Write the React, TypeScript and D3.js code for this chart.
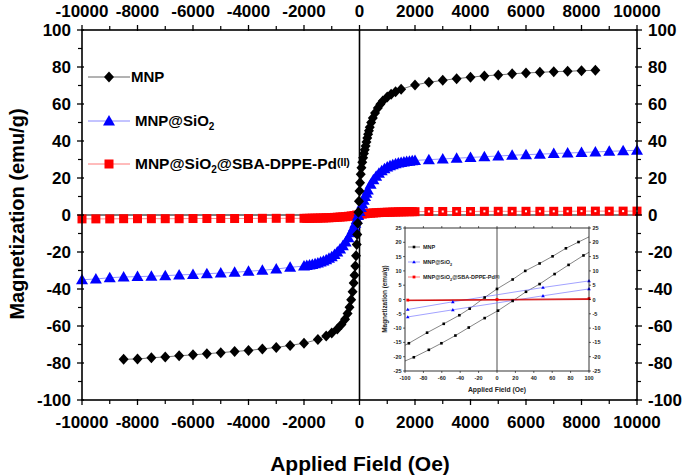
import React from 'react';
import * as d3 from 'd3';

const W = 685;
const H = 476;
const FONT = "'Liberation Sans', Arial, Helvetica, sans-serif";

// ---------- main plot data ----------
const mnpField = [
  -8500, -8000, -7500, -7000, -6500, -6000, -5500, -5000, -4500, -4000, -3500, -3000, -2500, -2000, -1500,
  -1200, -1000, -800, -650, -520, -430, -360, -300, -250, -210, -180, -150, -125, -100, -80, -60, -40, -20,
  0, 20, 45, 70, 100, 130, 160, 190, 220, 250, 280, 310, 340, 370, 420, 480, 560, 660, 750, 840, 1000, 1140,
  1300, 1500, 2000, 2500, 3000, 3500, 4000, 4500, 5000, 5500, 6000, 6500, 7000, 7500, 8000, 8500,
];
const mnpMag = [
  -78.0, -77.8, -77.2, -76.7, -76.1, -75.6, -75.0, -74.4, -73.8, -73.2, -72.4, -71.6, -70.5, -69.3, -67.3,
  -65.4, -63.8, -61.6, -59.2, -56.4, -53.2, -49.8, -45.8, -41.5, -36.8, -32.5, -27.5, -22.0, -16.0, -10.5, -4.5, 1.5, 7.5,
  13.0, 17.5, 22.0, 25.5, 28.5, 31.0, 33.2, 35.3, 37.3, 39.5, 41.6, 43.6, 45.6, 47.5, 50.0, 52.5, 55.2, 57.8, 59.8, 61.6, 63.8, 65.3,
  66.6, 68.0, 70.3, 71.7, 72.8, 73.7, 74.5, 75.2, 75.7, 76.3, 76.8, 77.1, 77.5, 77.7, 78.0, 78.2,
];

const sio2Field = [
  -10000, -9500, -9000, -8500, -8000, -7500, -7000, -6500, -6000, -5500, -5000, -4500, -4000, -3500, -3000, -2500,
  -2000, -1900, -1800, -1700, -1600, -1500, -1400, -1300, -1200, -1100, -1000, -900, -800, -700, -600, -500, -400,
  -300, -250, -200, -150, -100, -50, 0, 50, 100, 150, 200, 250, 300, 400, 500, 600, 700, 800, 900, 1000, 1100,
  1200, 1300, 1400, 1500, 1600, 1700, 1800, 1900, 2000,
  2500, 3000, 3500, 4000, 4500, 5000, 5500, 6000, 6500, 7000, 7500, 8000, 8500, 9000, 9500, 10000,
];
const sio2Mag = [
  -35.0, -34.6, -33.9, -33.5, -33.3, -33.1, -32.8, -32.4, -32.1, -31.7, -31.4, -31.0, -30.4, -29.9, -29.2, -28.3,
  -27.6, -27.3, -27.0, -26.7, -26.3, -25.9, -25.4, -24.9, -24.2, -23.4, -22.5, -21.4, -20.0, -18.4, -16.6, -14.6, -12.3,
  -9.6, -8.0, -6.3, -4.4, -2.4, -0.3, 1.9, 4.0, 6.0, 8.0, 10.0, 11.8, 13.5, 16.6, 19.0, 21.0, 22.6, 23.9, 25.0, 25.9, 26.6,
  27.2, 27.7, 28.1, 28.4, 28.7, 28.9, 29.1, 29.3, 29.5,
  29.9, 30.3, 30.7, 31.1, 31.5, 31.9, 32.3, 32.6, 32.9, 33.2, 33.5, 33.8, 34.1, 34.4, 34.7, 35.0,
];

const pdField = [
  -10000, -9500, -9000, -8500, -8000, -7500, -7000, -6500, -6000, -5500, -5000, -4500, -4000, -3500, -3000, -2500,
  -2000, -1900, -1800, -1700, -1600, -1500, -1400, -1300, -1200, -1100, -1000, -900, -800, -700, -600, -500, -400,
  -300, -200, -100, 0, 100, 200, 300, 400, 500, 600, 700, 800, 900, 1000, 1100, 1200, 1300, 1400, 1500, 1600,
  1700, 1800, 1900, 2000,
  2500, 3000, 3500, 4000, 4500, 5000, 5500, 6000, 6500, 7000, 7500, 8000, 8500, 9000, 9500, 10000,
];
const pdMag = [
  -2.1, -2.1, -2.1, -2.0, -2.0, -2.0, -2.0, -2.0, -1.9, -1.9, -1.9, -1.9, -1.9, -1.8, -1.8, -1.8,
  -1.8, -1.8, -1.8, -1.7, -1.7, -1.7, -1.6, -1.6, -1.5, -1.5, -1.4, -1.3, -1.2, -1.1, -1.0, -0.9, -0.7,
  -0.5, -0.3, 0.0, 0.3, 0.5, 0.7, 0.9, 1.0, 1.1, 1.2, 1.3, 1.4, 1.4, 1.5, 1.5, 1.6, 1.6, 1.7, 1.7, 1.7,
  1.8, 1.8, 1.8, 1.8,
  1.9, 1.9, 1.9, 1.9, 2.0, 2.0, 2.0, 2.0, 2.0, 2.0, 2.0, 2.1, 2.1, 2.1, 2.1, 2.1,
];

const xMajorTicks = [-10000, -8000, -6000, -4000, -2000, 0, 2000, 4000, 6000, 8000, 10000];
const xMinorTicks = [-9000, -7000, -5000, -3000, -1000, 1000, 3000, 5000, 7000, 9000];
const yMajorTicks = [-100, -80, -60, -40, -20, 0, 20, 40, 60, 80, 100];
const yMinorTicks = [-90, -70, -50, -30, -10, 10, 30, 50, 70, 90];

// ---------- inset data ----------
const inMnpUpField = [-100, -95.8, -76, -57.9, -40.9, -29.7, -13.4, 0, 17, 30.7, 46.3, 60.4, 74.9, 88.6, 100];
const inMnpUpMag = [-16.0, -15.3, -11.6, -8.5, -5.5, -3.2, 0.7, 3.7, 7.0, 10.0, 12.6, 15.1, 17.9, 20.1, 21.9];
const inMnpLowField = [-100, -90.4, -74.1, -60.4, -45.2, -30.7, -13.4, 1.1, 17, 31.5, 46.3, 62.6, 77.8, 94, 100];
const inMnpLowMag = [-21.5, -20.2, -17.6, -15.3, -12.6, -9.8, -6.5, -3.9, -0.5, 2.7, 5.4, 8.9, 12.1, 15.4, 16.5];
const inSio2Field = [-97, -48, 50, 100];
const inSio2UpMag = [-3.5, -0.8, 4.2, 6.5];
const inSio2LowMag = [-6.1, -3.6, 1.3, 3.7];
const inPdField = [-97, 0, 100];
const inPdUpMag = [-0.2, 0.0, 0.3];
const inPdLowMag = [-0.4, -0.2, 0.0];

const inXTicks = [-100, -80, -60, -40, -20, 0, 20, 40, 60, 80, 100];
const inYTicks = [-25, -20, -15, -10, -5, 0, 5, 10, 15, 20, 25];

const BLUE = '#0000ff';
const BLUE_LINE = '#7a7aff';
const RED = '#ff0000';
const RED_LINE = '#ff6a6a';

type P = [number, number];
const zip = (xs: number[], ys: number[]): P[] => xs.map((v, i) => [v, ys[i]] as P);

const diamond = (cx: number, cy: number, r = 5) =>
  `M${cx},${cy - r - 0.5}L${cx + r},${cy}L${cx},${cy + r + 0.5}L${cx - r},${cy}Z`;
const triangle = (cx: number, cy: number, r = 6) =>
  `M${cx},${cy - r}L${cx + r},${cy + r * 0.75}L${cx - r},${cy + r * 0.75}Z`;

export default function App() {
  const x = d3.scaleLinear().domain([-10000, 10000]).range([82, 637]);
  const y = d3.scaleLinear().domain([-100, 100]).range([400, 30]);
  const ix = d3.scaleLinear().domain([-100, 100]).range([405, 589]);
  const iy = d3.scaleLinear().domain([-25, 25]).range([371, 228]);

  const mainLine = d3.line<P>().x((d) => x(d[0])).y((d) => y(d[1]));
  const inLine = d3.line<P>().x((d) => ix(d[0])).y((d) => iy(d[1]));

  const mnp = zip(mnpField, mnpMag);
  const sio2 = zip(sio2Field, sio2Mag);
  const pd = zip(pdField, pdMag);

  const [L, R, T, B] = [82, 637, 30, 400];
  const tickFont = { fontFamily: FONT, fontWeight: 700, fontSize: 17, fill: '#000' } as const;

  const legendRows = [
    { yy: 77, kind: 'mnp' },
    { yy: 121, kind: 'sio2' },
    { yy: 164, kind: 'pd' },
  ];

  const inTickFont = { fontFamily: FONT, fontWeight: 700, fontSize: 5.5, fill: '#222' } as const;

  return (
    <svg width={W} height={H} style={{ position: 'absolute', left: 0, top: 0, background: '#fff' }}>
      <rect x={0} y={0} width={W} height={H} fill="#fff" />
      {/* zero lines */}
      <line x1={x(0)} x2={x(0)} y1={T} y2={B} stroke="#000" strokeWidth={1.6} />
      <line x1={L} x2={R} y1={y(0)} y2={y(0)} stroke="#000" strokeWidth={1.2} />

      {/* series lines */}
      <path d={mainLine(pd) || ''} fill="none" stroke={RED_LINE} strokeWidth={0.8} />
      <path d={mainLine(sio2) || ''} fill="none" stroke={BLUE_LINE} strokeWidth={0.8} />
      <path d={mainLine(mnp) || ''} fill="none" stroke="#555" strokeWidth={0.8} />

      {/* red squares */}
      {pd.map((d, i) => (
        <rect key={'pd' + i} x={x(d[0]) - 4.5} y={y(d[1]) - 4.5} width={9} height={9} fill={RED} />
      ))}
      {pd.filter((d) => d[0] >= 2500).map((d, i) => (
        <rect key={'pdw' + i} x={x(d[0]) - 1} y={y(d[1]) - 1} width={2} height={2} fill="#fff" />
      ))}
      {/* blue triangles */}
      {sio2.map((d, i) => (
        <path key={'si' + i} d={triangle(x(d[0]), y(d[1]))} fill={BLUE} />
      ))}
      {/* black diamonds */}
      {mnp.map((d, i) => (
        <path key={'mn' + i} d={diamond(x(d[0]), y(d[1]))} fill="#000" />
      ))}

      {/* frame */}
      <rect x={L} y={T} width={R - L} height={B - T} fill="none" stroke="#000" strokeWidth={1.6} />

      {/* x ticks top & bottom */}
      {xMajorTicks.map((t) => (
        <g key={'xt' + t}>
          <line x1={x(t)} x2={x(t)} y1={T - 5} y2={T + 1} stroke="#000" strokeWidth={1.3} />
          <line x1={x(t)} x2={x(t)} y1={B - 1} y2={B + 5} stroke="#000" strokeWidth={1.3} />
          <text x={x(t)} y={17} textAnchor="middle" {...tickFont}>{t}</text>
          <text x={x(t)} y={428} textAnchor="middle" {...tickFont}>{t}</text>
        </g>
      ))}
      {xMinorTicks.map((t) => (
        <g key={'xm' + t}>
          <line x1={x(t)} x2={x(t)} y1={T - 4} y2={T} stroke="#000" strokeWidth={1.2} />
          <line x1={x(t)} x2={x(t)} y1={B} y2={B + 4} stroke="#000" strokeWidth={1.2} />
        </g>
      ))}
      {/* y ticks left & right */}
      {yMajorTicks.map((t) => (
        <g key={'yt' + t}>
          <line x1={L - 5} x2={L + 2} y1={y(t)} y2={y(t)} stroke="#000" strokeWidth={1.3} />
          <line x1={R - 2} x2={R + 5} y1={y(t)} y2={y(t)} stroke="#000" strokeWidth={1.3} />
          <text x={71} y={y(t) + 6} textAnchor="end" {...tickFont}>{t}</text>
          <text x={648} y={y(t) + 6} textAnchor="start" {...tickFont}>{t}</text>
        </g>
      ))}
      {yMinorTicks.map((t) => (
        <g key={'ym' + t}>
          <line x1={L - 4} x2={L} y1={y(t)} y2={y(t)} stroke="#000" strokeWidth={1.2} />
          <line x1={R} x2={R + 4} y1={y(t)} y2={y(t)} stroke="#000" strokeWidth={1.2} />
        </g>
      ))}

      {/* axis titles */}
      <text x={360} y={471} textAnchor="middle" fontFamily={FONT} fontWeight={700} fontSize={21}>
        Applied Field (Oe)
      </text>
      <text
        transform="translate(24,214) rotate(-90)"
        textAnchor="middle"
        fontFamily={FONT}
        fontWeight={700}
        fontSize={20}
      >
        Magnetization (emu/g)
      </text>

      {/* main legend */}
      {legendRows.map((r) => {
        const stroke = r.kind === 'mnp' ? '#555' : r.kind === 'sio2' ? BLUE_LINE : RED_LINE;
        return (
          <g key={r.kind}>
            <line x1={88} x2={130} y1={r.yy} y2={r.yy} stroke={stroke} strokeWidth={0.9} />
            {r.kind === 'mnp' && <path d={diamond(109, r.yy)} fill="#000" />}
            {r.kind === 'sio2' && <path d={triangle(109, r.yy)} fill={BLUE} />}
            {r.kind === 'pd' && <rect x={104.5} y={r.yy - 4.5} width={9} height={9} fill={RED} />}
          </g>
        );
      })}
      <text x={131} y={82} fontFamily={FONT} fontWeight={700} fontSize={15}>MNP</text>
      <text x={135} y={126} fontFamily={FONT} fontWeight={700} fontSize={15}>
        MNP@SiO<tspan dy={4} fontSize={10}>2</tspan>
      </text>
      <text x={135} y={169} fontFamily={FONT} fontWeight={700} fontSize={15.5}>
        MNP@SiO<tspan dy={4} fontSize={10}>2</tspan>
        <tspan dy={-4}>@SBA-DPPE-Pd</tspan>
        <tspan dy={-3} fontSize={10.5}>(II)</tspan>
      </text>

      {/* ---------- inset ---------- */}
      <g>
        <line x1={ix(0)} x2={ix(0)} y1={iy(25)} y2={iy(-25)} stroke="#000" strokeWidth={0.7} />
        {/* inset lines */}
        <path d={inLine(zip(inMnpUpField, inMnpUpMag)) || ''} fill="none" stroke="#333" strokeWidth={0.6} />
        <path d={inLine(zip(inMnpLowField, inMnpLowMag)) || ''} fill="none" stroke="#333" strokeWidth={0.6} />
        <path d={inLine(zip(inSio2Field, inSio2UpMag)) || ''} fill="none" stroke={BLUE_LINE} strokeWidth={0.7} />
        <path d={inLine(zip(inSio2Field, inSio2LowMag)) || ''} fill="none" stroke={BLUE_LINE} strokeWidth={0.7} />
        <path d={inLine(zip(inPdField, inPdUpMag)) || ''} fill="none" stroke="#d00000" strokeWidth={0.9} />
        <path d={inLine(zip(inPdField, inPdLowMag)) || ''} fill="none" stroke="#d00000" strokeWidth={0.9} />
        {/* inset markers */}
        {[...zip(inMnpUpField, inMnpUpMag), ...zip(inMnpLowField, inMnpLowMag)]
          .filter((d) => Math.abs(d[0]) < 100)
          .map((d, i) => (
            <rect key={'im' + i} x={ix(d[0]) - 1.3} y={iy(d[1]) - 1.3} width={2.6} height={2.6} fill="#000" />
          ))}
        {[...zip(inSio2Field, inSio2UpMag), ...zip(inSio2Field, inSio2LowMag)].map((d, i) => (
          <path key={'is' + i} d={triangle(ix(d[0]), iy(d[1]), 1.8)} fill={BLUE} />
        ))}
        {[...zip(inPdField, inPdUpMag)].map((d, i) => (
          <rect key={'ip' + i} x={ix(d[0]) - 1.4} y={iy(d[1]) - 1.4} width={2.8} height={2.8} fill={RED} />
        ))}
        {/* inset frame */}
        <rect x={405} y={228} width={184} height={143} fill="none" stroke="#000" strokeWidth={0.8} />
        {inXTicks.map((t) => (
          <g key={'ixt' + t}>
            <line x1={ix(t)} x2={ix(t)} y1={371} y2={373} stroke="#000" strokeWidth={0.6} />
            <line x1={ix(t)} x2={ix(t)} y1={226} y2={228} stroke="#000" strokeWidth={0.6} />
            <text x={ix(t)} y={380} textAnchor="middle" {...inTickFont}>{t}</text>
          </g>
        ))}
        {inYTicks.map((t) => (
          <g key={'iyt' + t}>
            <line x1={403} x2={405} y1={iy(t)} y2={iy(t)} stroke="#000" strokeWidth={0.6} />
            <line x1={589} x2={591} y1={iy(t)} y2={iy(t)} stroke="#000" strokeWidth={0.6} />
            <text x={401.5} y={iy(t) + 2} textAnchor="end" {...inTickFont}>{t}</text>
            <text x={592.5} y={iy(t) + 2} textAnchor="start" {...inTickFont}>{t}</text>
          </g>
        ))}
        <text x={497} y={392} textAnchor="middle" fontFamily={FONT} fontWeight={700} fontSize={6.8} fill="#222">
          Applied Field (Oe)
        </text>
        <text
          transform="translate(387,299) rotate(-90)"
          textAnchor="middle"
          fontFamily={FONT}
          fontWeight={700}
          fontSize={6.4}
          fill="#222"
        >
          Magnetization (emu/g)
        </text>
        {/* inset legend */}
        <line x1={408} x2={420} y1={247} y2={247} stroke="#333" strokeWidth={0.6} />
        <rect x={412.7} y={245.7} width={2.6} height={2.6} fill="#000" />
        <text x={423} y={249} {...inTickFont}>MNP</text>
        <line x1={408} x2={420} y1={262} y2={262} stroke={BLUE_LINE} strokeWidth={0.7} />
        <path d={triangle(414, 262, 1.8)} fill={BLUE} />
        <text x={423} y={264} {...inTickFont}>
          MNP@SiO<tspan dy={1.5} fontSize={3.8}>2</tspan>
        </text>
        <line x1={408} x2={420} y1={277} y2={277} stroke={RED_LINE} strokeWidth={0.9} />
        <rect x={412.6} y={275.6} width={2.8} height={2.8} fill={RED} />
        <text x={423} y={279} {...inTickFont}>
          MNP@SiO<tspan dy={1.5} fontSize={3.8}>2</tspan>
          <tspan dy={-1.5}>@SBA-DPPE-Pd</tspan>
          <tspan dy={-1} fontSize={3.8}>(II)</tspan>
        </text>
      </g>
    </svg>
  );
}
